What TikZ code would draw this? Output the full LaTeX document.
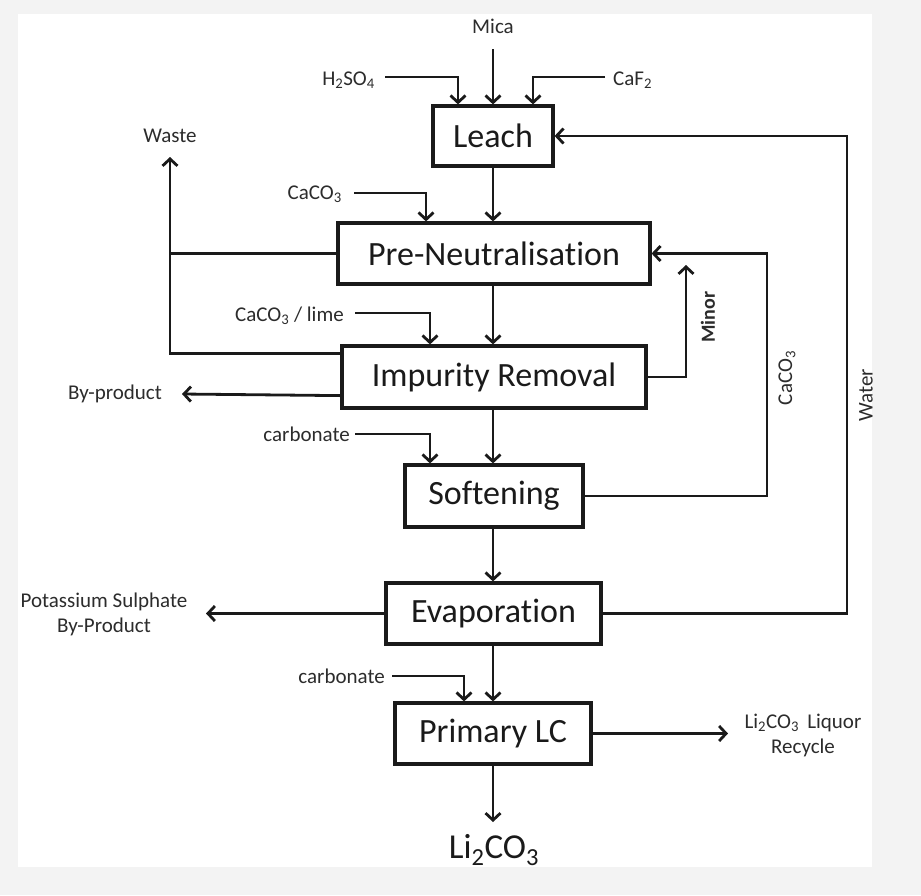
\documentclass[tikz,border=0pt]{standalone}
\usepackage{fontspec}
\setmainfont[Ligatures={NoCommon}]{Carlito}
\usetikzlibrary{arrows.meta,calc}
\definecolor{ink}{HTML}{1A1A1A}
\definecolor{edge}{HTML}{F3F3F3}
\tikzset{
  procbox/.style={draw=ink, line width=3.2pt, fill=white, inner sep=0pt,
    font=\fontsize{34}{38}\selectfont, text=ink},
  lbl/.style={inner sep=0pt, font=\fontsize{21}{25}\selectfont, text=ink!92},
  arr/.style={draw=ink, line width=2.8pt, -{Straight Barb[length=7pt,width=15pt,line width=2.8pt]}},
  plain/.style={draw=ink, line width=2.8pt}
}
\begin{document}
\begin{tikzpicture}[x=1pt,y=-1pt]
\fill[edge] (0,0) rectangle (921,895);
\fill[white] (18,14) rectangle (872,867);
\useasboundingbox (0,0) rectangle (921,895);

% process boxes
\node[procbox, minimum width=120pt, minimum height=60pt] (leach) at (493,136) {Leach};
\node[procbox, minimum width=312pt, minimum height=61pt] (pre) at (494,253.5) {Pre-Neutralisation};
\node[procbox, minimum width=304pt, minimum height=62pt] (ir) at (494,377) {Impurity Removal};
\node[procbox, minimum width=178pt, minimum height=62pt] (soft) at (494,496) {Softening};
\node[procbox, minimum width=215pt, minimum height=61pt] (evap) at (493.5,613.5) {Evaporation};
\node[procbox, minimum width=196pt, minimum height=61pt] (plc) at (493,733.5) {Primary LC};

% labels
\node[lbl] (mica) at (493,26) {Mica};
\node[lbl, anchor=east] (h2so4) at (375,80) {H\textsubscript{2}SO\textsubscript{4}};
\node[lbl, anchor=west] (caf2) at (613,80) {CaF\textsubscript{2}};
\node[lbl] (waste) at (170,136) {Waste};
\node[lbl, anchor=east] (caco3a) at (342,194) {CaCO\textsubscript{3}};
\node[lbl, anchor=east] (lime) at (344,316) {CaCO\textsubscript{3} / lime};
\node[lbl, anchor=east] (byp) at (162,394) {By-product};
\node[lbl, anchor=east] (carb1) at (350,434) {carbonate};
\node[lbl, align=center] (kso) at (104,614) {Potassium Sulphate\\By-Product};
\node[lbl, anchor=east] (carb2) at (385,676) {carbonate};
\node[lbl, align=center] (liq) at (803,735) {Li\textsubscript{2}CO\textsubscript{3}\, Liquor\\Recycle};
\node[inner sep=0pt, font=\fontsize{35}{38}\selectfont, text=ink] (li) at (494,850) {Li\textsubscript{2}CO\textsubscript{3}};
\node[lbl, rotate=90, font=\bfseries\fontsize{20}{24}\selectfont] (minor) at (708,317) {Minor};
\node[lbl, rotate=90] (caco3r) at (787,378) {CaCO\textsubscript{3}};
\node[lbl, rotate=90] (water) at (866,395) {Water};

% free-end coordinates
\coordinate (micaIn) at (493,49);
\coordinate (h2In) at (385,77);
\coordinate (cafIn) at (605,77);
\coordinate (caIn) at (354,193);
\coordinate (limeIn) at (355,313);
\coordinate (c1In) at (355,434);
\coordinate (c2In) at (392,676);
\coordinate (wasteTip) at (170,157);
\coordinate (wasteJ) at (170,253.5);
\coordinate (bypTip) at (182,394);
\coordinate (minorTip) at (686,265);
\coordinate (caR) at (767,253.5);
\coordinate (waterR) at (847,136);
\coordinate (ksoTip) at (206,613.5);
\coordinate (liqTip) at (728,733.5);
\coordinate (liTip) at (493,822);

% inputs to Leach
\draw[arr] (micaIn) -- (micaIn |- leach.north);
\draw[arr] (h2In) -| ($(leach.north)+(-35,0)$);
\draw[arr] (cafIn) -| ($(leach.north)+(40,0)$);

% main line
\draw[arr] (leach.south) -- (leach.south |- pre.north);
\draw[arr] (leach.south |- pre.south) -- (leach.south |- ir.north);
\draw[arr] (leach.south |- ir.south) -- (leach.south |- soft.north);
\draw[arr] (leach.south |- soft.south) -- (leach.south |- evap.north);
\draw[arr] (leach.south |- evap.south) -- (leach.south |- plc.north);
\draw[arr] (plc.south) -- (liTip);

% side inputs
\draw[arr] (caIn) -| ($(pre.north)+(-68,0)$);
\draw[arr] (limeIn) -| ($(ir.north)+(-64,0)$);
\draw[arr] (c1In) -| ($(soft.north)+(-64,0)$);
\draw[arr] (c2In) -| ($(plc.north)+(-29,0)$);

% waste
\draw[arr] ($(ir.north west)+(0,9)$) -| (wasteTip);
\draw[plain] (pre.west) -- (wasteJ);

% by-products and recycles
\draw[arr] ($(ir.south west)+(0,-14)$) -- (bypTip);
\draw[arr] (ir.east) -| (minorTip);
\draw[arr] (soft.east) -| (caR) -- (pre.east);
\draw[arr] (evap.east) -| (waterR) -- (leach.east);
\draw[arr] (evap.west) -- (ksoTip);
\draw[arr] (plc.east) -- (liqTip);
\end{tikzpicture}
\end{document}
